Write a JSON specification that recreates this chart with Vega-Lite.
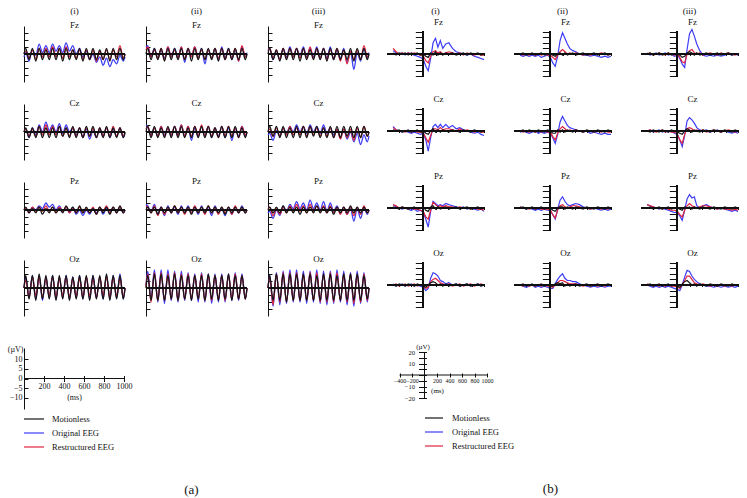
{
"$schema": "https://vega.github.io/schema/vega-lite/v6.json",
"background": "white",
"padding": {"left": 7, "top": 7, "right": 5, "bottom": 2},
"config": {
 "font": "Liberation Serif",
 "view": {"stroke": null},
 "axis": {"domainColor": "#111", "tickColor": "#111", "labelColor": "#111", "titleColor": "#111", "grid": false, "labelFont": "Liberation Serif", "titleFont": "Liberation Serif", "titleFontWeight": "normal"},
 "header": {"labelFont": "Liberation Serif", "labelFontSize": 9, "labelColor": "#111"},
 "text": {"font": "Liberation Serif", "color": "#111"},
 "title": {"font": "Liberation Serif", "fontWeight": "normal", "fontSize": 13, "color": "#111"}
},
"datasets": {
"L": [{"s":"m","lab":"Motionless"},{"s":"o","lab":"Original EEG"},{"s":"r","lab":"Restructured EEG"}],
"A": [
{"c":"i","h":"Fz","t":0,"m":0,"o":-2,"r":0},
{"c":"i","h":"Fz","t":17,"m":4,"o":1,"r":2},
{"c":"i","h":"Fz","t":50,"m":-4,"o":-5,"r":-3},
{"c":"i","h":"Fz","t":83,"m":4,"o":3,"r":3},
{"c":"i","h":"Fz","t":117,"m":-5,"o":-1,"r":-4},
{"c":"i","h":"Fz","t":150,"m":4,"o":7,"r":4},
{"c":"i","h":"Fz","t":183,"m":-4,"o":1,"r":-2},
{"c":"i","h":"Fz","t":217,"m":3,"o":6,"r":4},
{"c":"i","h":"Fz","t":250,"m":-4,"o":1,"r":-2},
{"c":"i","h":"Fz","t":283,"m":4,"o":7,"r":5},
{"c":"i","h":"Fz","t":317,"m":-4,"o":2,"r":-2},
{"c":"i","h":"Fz","t":350,"m":4,"o":6,"r":4},
{"c":"i","h":"Fz","t":383,"m":-5,"o":1,"r":-3},
{"c":"i","h":"Fz","t":417,"m":4,"o":8,"r":5},
{"c":"i","h":"Fz","t":450,"m":-4,"o":2,"r":-2},
{"c":"i","h":"Fz","t":483,"m":3,"o":6,"r":3},
{"c":"i","h":"Fz","t":517,"m":-4,"o":0,"r":-3},
{"c":"i","h":"Fz","t":550,"m":4,"o":4,"r":3},
{"c":"i","h":"Fz","t":583,"m":-5,"o":-2,"r":-4},
{"c":"i","h":"Fz","t":617,"m":4,"o":2,"r":3},
{"c":"i","h":"Fz","t":650,"m":-4,"o":-4,"r":-4},
{"c":"i","h":"Fz","t":683,"m":4,"o":0,"r":3},
{"c":"i","h":"Fz","t":717,"m":-4,"o":-6,"r":-5},
{"c":"i","h":"Fz","t":750,"m":3,"o":-2,"r":2},
{"c":"i","h":"Fz","t":783,"m":-4,"o":-8,"r":-4},
{"c":"i","h":"Fz","t":817,"m":4,"o":-3,"r":3},
{"c":"i","h":"Fz","t":850,"m":-5,"o":-9,"r":-4},
{"c":"i","h":"Fz","t":883,"m":4,"o":-4,"r":3},
{"c":"i","h":"Fz","t":917,"m":-4,"o":-7,"r":-2},
{"c":"i","h":"Fz","t":950,"m":4,"o":-1,"r":6},
{"c":"i","h":"Fz","t":983,"m":-4,"o":-5,"r":-3},
{"c":"i","h":"Fz","t":1000,"m":0,"o":-2,"r":0},
{"c":"ii","h":"Fz","t":0,"m":0,"o":5,"r":3},
{"c":"ii","h":"Fz","t":17,"m":4,"o":6,"r":5},
{"c":"ii","h":"Fz","t":50,"m":-4,"o":-2,"r":-2},
{"c":"ii","h":"Fz","t":83,"m":4,"o":4,"r":3},
{"c":"ii","h":"Fz","t":117,"m":-4,"o":-3,"r":-3},
{"c":"ii","h":"Fz","t":150,"m":4,"o":3,"r":4},
{"c":"ii","h":"Fz","t":183,"m":-5,"o":-3,"r":-4},
{"c":"ii","h":"Fz","t":217,"m":4,"o":5,"r":5},
{"c":"ii","h":"Fz","t":250,"m":-4,"o":-2,"r":-2},
{"c":"ii","h":"Fz","t":283,"m":4,"o":4,"r":3},
{"c":"ii","h":"Fz","t":317,"m":-4,"o":-3,"r":-3},
{"c":"ii","h":"Fz","t":350,"m":4,"o":5,"r":5},
{"c":"ii","h":"Fz","t":383,"m":-4,"o":-6,"r":-4},
{"c":"ii","h":"Fz","t":417,"m":4,"o":4,"r":4},
{"c":"ii","h":"Fz","t":450,"m":-5,"o":-2,"r":-2},
{"c":"ii","h":"Fz","t":483,"m":4,"o":5,"r":5},
{"c":"ii","h":"Fz","t":517,"m":-4,"o":-3,"r":-3},
{"c":"ii","h":"Fz","t":550,"m":4,"o":4,"r":3},
{"c":"ii","h":"Fz","t":583,"m":-4,"o":-7,"r":-4},
{"c":"ii","h":"Fz","t":617,"m":4,"o":3,"r":3},
{"c":"ii","h":"Fz","t":650,"m":-4,"o":-3,"r":-3},
{"c":"ii","h":"Fz","t":683,"m":4,"o":4,"r":4},
{"c":"ii","h":"Fz","t":717,"m":-5,"o":-4,"r":-3},
{"c":"ii","h":"Fz","t":750,"m":4,"o":5,"r":4},
{"c":"ii","h":"Fz","t":783,"m":-4,"o":-3,"r":-4},
{"c":"ii","h":"Fz","t":817,"m":4,"o":4,"r":3},
{"c":"ii","h":"Fz","t":850,"m":-4,"o":-4,"r":-3},
{"c":"ii","h":"Fz","t":883,"m":4,"o":3,"r":4},
{"c":"ii","h":"Fz","t":917,"m":-4,"o":-5,"r":-5},
{"c":"ii","h":"Fz","t":950,"m":4,"o":5,"r":6},
{"c":"ii","h":"Fz","t":983,"m":-4,"o":-2,"r":-2},
{"c":"ii","h":"Fz","t":1000,"m":0,"o":1,"r":0},
{"c":"iii","h":"Fz","t":0,"m":0,"o":3,"r":2},
{"c":"iii","h":"Fz","t":17,"m":4,"o":4,"r":4},
{"c":"iii","h":"Fz","t":50,"m":-4,"o":-4,"r":-3},
{"c":"iii","h":"Fz","t":83,"m":3,"o":2,"r":3},
{"c":"iii","h":"Fz","t":117,"m":-5,"o":-4,"r":-4},
{"c":"iii","h":"Fz","t":150,"m":4,"o":4,"r":4},
{"c":"iii","h":"Fz","t":183,"m":-4,"o":-2,"r":-3},
{"c":"iii","h":"Fz","t":217,"m":4,"o":5,"r":4},
{"c":"iii","h":"Fz","t":250,"m":-4,"o":-2,"r":-2},
{"c":"iii","h":"Fz","t":283,"m":4,"o":4,"r":4},
{"c":"iii","h":"Fz","t":317,"m":-5,"o":-1,"r":-3},
{"c":"iii","h":"Fz","t":350,"m":4,"o":5,"r":4},
{"c":"iii","h":"Fz","t":383,"m":-4,"o":-2,"r":-3},
{"c":"iii","h":"Fz","t":417,"m":3,"o":4,"r":5},
{"c":"iii","h":"Fz","t":450,"m":-4,"o":-2,"r":-3},
{"c":"iii","h":"Fz","t":483,"m":4,"o":5,"r":4},
{"c":"iii","h":"Fz","t":517,"m":-4,"o":-3,"r":-3},
{"c":"iii","h":"Fz","t":550,"m":4,"o":4,"r":4},
{"c":"iii","h":"Fz","t":583,"m":-5,"o":-3,"r":-4},
{"c":"iii","h":"Fz","t":617,"m":4,"o":5,"r":3},
{"c":"iii","h":"Fz","t":650,"m":-4,"o":-4,"r":-3},
{"c":"iii","h":"Fz","t":683,"m":4,"o":3,"r":4},
{"c":"iii","h":"Fz","t":717,"m":-4,"o":-3,"r":-5},
{"c":"iii","h":"Fz","t":750,"m":3,"o":4,"r":3},
{"c":"iii","h":"Fz","t":783,"m":-4,"o":-6,"r":-7},
{"c":"iii","h":"Fz","t":817,"m":4,"o":2,"r":2},
{"c":"iii","h":"Fz","t":850,"m":-5,"o":-11,"r":-4},
{"c":"iii","h":"Fz","t":883,"m":4,"o":1,"r":3},
{"c":"iii","h":"Fz","t":917,"m":-4,"o":-5,"r":-4},
{"c":"iii","h":"Fz","t":950,"m":4,"o":4,"r":6},
{"c":"iii","h":"Fz","t":983,"m":-4,"o":-3,"r":-2},
{"c":"iii","h":"Fz","t":1000,"m":0,"o":1,"r":0},
{"c":"i","h":"Cz","t":0,"m":0,"o":0,"r":0},
{"c":"i","h":"Cz","t":17,"m":3,"o":2,"r":2},
{"c":"i","h":"Cz","t":50,"m":-4,"o":-4,"r":-3},
{"c":"i","h":"Cz","t":83,"m":3,"o":3,"r":2},
{"c":"i","h":"Cz","t":117,"m":-4,"o":-2,"r":-3},
{"c":"i","h":"Cz","t":150,"m":4,"o":5,"r":4},
{"c":"i","h":"Cz","t":183,"m":-4,"o":0,"r":-2},
{"c":"i","h":"Cz","t":217,"m":3,"o":7,"r":5},
{"c":"i","h":"Cz","t":250,"m":-4,"o":1,"r":-2},
{"c":"i","h":"Cz","t":283,"m":3,"o":5,"r":4},
{"c":"i","h":"Cz","t":317,"m":-4,"o":0,"r":-2},
{"c":"i","h":"Cz","t":350,"m":4,"o":6,"r":4},
{"c":"i","h":"Cz","t":383,"m":-3,"o":-1,"r":-3},
{"c":"i","h":"Cz","t":417,"m":3,"o":5,"r":3},
{"c":"i","h":"Cz","t":450,"m":-4,"o":0,"r":-3},
{"c":"i","h":"Cz","t":483,"m":4,"o":3,"r":3},
{"c":"i","h":"Cz","t":517,"m":-4,"o":-2,"r":-3},
{"c":"i","h":"Cz","t":550,"m":3,"o":3,"r":3},
{"c":"i","h":"Cz","t":583,"m":-4,"o":-4,"r":-4},
{"c":"i","h":"Cz","t":617,"m":4,"o":2,"r":3},
{"c":"i","h":"Cz","t":650,"m":-3,"o":-5,"r":-3},
{"c":"i","h":"Cz","t":683,"m":4,"o":1,"r":3},
{"c":"i","h":"Cz","t":717,"m":-4,"o":-4,"r":-4},
{"c":"i","h":"Cz","t":750,"m":3,"o":2,"r":3},
{"c":"i","h":"Cz","t":783,"m":-4,"o":-3,"r":-3},
{"c":"i","h":"Cz","t":817,"m":4,"o":3,"r":3},
{"c":"i","h":"Cz","t":850,"m":-4,"o":-4,"r":-3},
{"c":"i","h":"Cz","t":883,"m":3,"o":2,"r":4},
{"c":"i","h":"Cz","t":917,"m":-4,"o":-3,"r":-3},
{"c":"i","h":"Cz","t":950,"m":3,"o":3,"r":3},
{"c":"i","h":"Cz","t":983,"m":-4,"o":-4,"r":-3},
{"c":"i","h":"Cz","t":1000,"m":0,"o":-1,"r":0},
{"c":"ii","h":"Cz","t":0,"m":0,"o":5,"r":2},
{"c":"ii","h":"Cz","t":17,"m":4,"o":4,"r":4},
{"c":"ii","h":"Cz","t":50,"m":-4,"o":-2,"r":-3},
{"c":"ii","h":"Cz","t":83,"m":4,"o":3,"r":3},
{"c":"ii","h":"Cz","t":117,"m":-4,"o":-3,"r":-3},
{"c":"ii","h":"Cz","t":150,"m":3,"o":4,"r":4},
{"c":"ii","h":"Cz","t":183,"m":-4,"o":-2,"r":-3},
{"c":"ii","h":"Cz","t":217,"m":4,"o":3,"r":3},
{"c":"ii","h":"Cz","t":250,"m":-4,"o":-3,"r":-2},
{"c":"ii","h":"Cz","t":283,"m":4,"o":4,"r":4},
{"c":"ii","h":"Cz","t":317,"m":-4,"o":-2,"r":-3},
{"c":"ii","h":"Cz","t":350,"m":4,"o":5,"r":5},
{"c":"ii","h":"Cz","t":383,"m":-4,"o":-3,"r":-3},
{"c":"ii","h":"Cz","t":417,"m":3,"o":4,"r":4},
{"c":"ii","h":"Cz","t":450,"m":-4,"o":-6,"r":-3},
{"c":"ii","h":"Cz","t":483,"m":4,"o":3,"r":4},
{"c":"ii","h":"Cz","t":517,"m":-4,"o":-3,"r":-3},
{"c":"ii","h":"Cz","t":550,"m":4,"o":4,"r":5},
{"c":"ii","h":"Cz","t":583,"m":-4,"o":-3,"r":-3},
{"c":"ii","h":"Cz","t":617,"m":4,"o":4,"r":4},
{"c":"ii","h":"Cz","t":650,"m":-4,"o":-4,"r":-3},
{"c":"ii","h":"Cz","t":683,"m":3,"o":3,"r":3},
{"c":"ii","h":"Cz","t":717,"m":-4,"o":-3,"r":-4},
{"c":"ii","h":"Cz","t":750,"m":4,"o":4,"r":4},
{"c":"ii","h":"Cz","t":783,"m":-4,"o":-4,"r":-3},
{"c":"ii","h":"Cz","t":817,"m":4,"o":3,"r":4},
{"c":"ii","h":"Cz","t":850,"m":-4,"o":-6,"r":-3},
{"c":"ii","h":"Cz","t":883,"m":4,"o":3,"r":3},
{"c":"ii","h":"Cz","t":917,"m":-4,"o":-3,"r":-4},
{"c":"ii","h":"Cz","t":950,"m":3,"o":4,"r":4},
{"c":"ii","h":"Cz","t":983,"m":-4,"o":-3,"r":-2},
{"c":"ii","h":"Cz","t":1000,"m":0,"o":0,"r":0},
{"c":"iii","h":"Cz","t":0,"m":0,"o":-2,"r":0},
{"c":"iii","h":"Cz","t":17,"m":4,"o":-1,"r":2},
{"c":"iii","h":"Cz","t":50,"m":-3,"o":-6,"r":-3},
{"c":"iii","h":"Cz","t":83,"m":4,"o":1,"r":3},
{"c":"iii","h":"Cz","t":117,"m":-4,"o":-3,"r":-3},
{"c":"iii","h":"Cz","t":150,"m":4,"o":3,"r":3},
{"c":"iii","h":"Cz","t":183,"m":-4,"o":-1,"r":-2},
{"c":"iii","h":"Cz","t":217,"m":3,"o":4,"r":4},
{"c":"iii","h":"Cz","t":250,"m":-4,"o":0,"r":-2},
{"c":"iii","h":"Cz","t":283,"m":4,"o":5,"r":3},
{"c":"iii","h":"Cz","t":317,"m":-4,"o":0,"r":-2},
{"c":"iii","h":"Cz","t":350,"m":4,"o":4,"r":4},
{"c":"iii","h":"Cz","t":383,"m":-4,"o":-1,"r":-3},
{"c":"iii","h":"Cz","t":417,"m":4,"o":5,"r":4},
{"c":"iii","h":"Cz","t":450,"m":-3,"o":0,"r":-2},
{"c":"iii","h":"Cz","t":483,"m":4,"o":4,"r":3},
{"c":"iii","h":"Cz","t":517,"m":-4,"o":-1,"r":-3},
{"c":"iii","h":"Cz","t":550,"m":3,"o":5,"r":3},
{"c":"iii","h":"Cz","t":583,"m":-4,"o":-1,"r":-3},
{"c":"iii","h":"Cz","t":617,"m":4,"o":3,"r":3},
{"c":"iii","h":"Cz","t":650,"m":-4,"o":-2,"r":-4},
{"c":"iii","h":"Cz","t":683,"m":4,"o":2,"r":2},
{"c":"iii","h":"Cz","t":717,"m":-4,"o":-4,"r":-5},
{"c":"iii","h":"Cz","t":750,"m":4,"o":2,"r":2},
{"c":"iii","h":"Cz","t":783,"m":-3,"o":-5,"r":-4},
{"c":"iii","h":"Cz","t":817,"m":4,"o":0,"r":2},
{"c":"iii","h":"Cz","t":850,"m":-4,"o":-7,"r":-6},
{"c":"iii","h":"Cz","t":883,"m":4,"o":-1,"r":3},
{"c":"iii","h":"Cz","t":917,"m":-4,"o":-9,"r":-4},
{"c":"iii","h":"Cz","t":950,"m":4,"o":-2,"r":4},
{"c":"iii","h":"Cz","t":983,"m":-3,"o":-7,"r":-3},
{"c":"iii","h":"Cz","t":1000,"m":0,"o":-3,"r":0},
{"c":"i","h":"Pz","t":0,"m":0,"o":0,"r":0},
{"c":"i","h":"Pz","t":17,"m":2,"o":1,"r":1},
{"c":"i","h":"Pz","t":50,"m":-2,"o":-2,"r":-2},
{"c":"i","h":"Pz","t":83,"m":1,"o":2,"r":2},
{"c":"i","h":"Pz","t":117,"m":-2,"o":0,"r":-1},
{"c":"i","h":"Pz","t":150,"m":2,"o":3,"r":2},
{"c":"i","h":"Pz","t":183,"m":-3,"o":1,"r":-1},
{"c":"i","h":"Pz","t":217,"m":1,"o":5,"r":3},
{"c":"i","h":"Pz","t":250,"m":-2,"o":2,"r":-1},
{"c":"i","h":"Pz","t":283,"m":2,"o":4,"r":2},
{"c":"i","h":"Pz","t":317,"m":-2,"o":0,"r":-2},
{"c":"i","h":"Pz","t":350,"m":1,"o":3,"r":2},
{"c":"i","h":"Pz","t":383,"m":-2,"o":-1,"r":-1},
{"c":"i","h":"Pz","t":417,"m":3,"o":2,"r":2},
{"c":"i","h":"Pz","t":450,"m":-1,"o":-2,"r":-2},
{"c":"i","h":"Pz","t":483,"m":2,"o":2,"r":1},
{"c":"i","h":"Pz","t":517,"m":-2,"o":-3,"r":-2},
{"c":"i","h":"Pz","t":550,"m":3,"o":0,"r":2},
{"c":"i","h":"Pz","t":583,"m":-2,"o":-4,"r":-2},
{"c":"i","h":"Pz","t":617,"m":2,"o":0,"r":1},
{"c":"i","h":"Pz","t":650,"m":-2,"o":-3,"r":-2},
{"c":"i","h":"Pz","t":683,"m":1,"o":1,"r":2},
{"c":"i","h":"Pz","t":717,"m":-3,"o":-2,"r":-3},
{"c":"i","h":"Pz","t":750,"m":2,"o":2,"r":2},
{"c":"i","h":"Pz","t":783,"m":-2,"o":-3,"r":-1},
{"c":"i","h":"Pz","t":817,"m":2,"o":1,"r":3},
{"c":"i","h":"Pz","t":850,"m":-3,"o":-2,"r":-2},
{"c":"i","h":"Pz","t":883,"m":2,"o":2,"r":2},
{"c":"i","h":"Pz","t":917,"m":-2,"o":-2,"r":-2},
{"c":"i","h":"Pz","t":950,"m":3,"o":2,"r":2},
{"c":"i","h":"Pz","t":983,"m":-2,"o":-2,"r":-2},
{"c":"i","h":"Pz","t":1000,"m":0,"o":0,"r":0},
{"c":"ii","h":"Pz","t":0,"m":0,"o":4,"r":3},
{"c":"ii","h":"Pz","t":17,"m":2,"o":3,"r":2},
{"c":"ii","h":"Pz","t":50,"m":-2,"o":-1,"r":-2},
{"c":"ii","h":"Pz","t":83,"m":2,"o":4,"r":3},
{"c":"ii","h":"Pz","t":117,"m":-3,"o":-3,"r":-4},
{"c":"ii","h":"Pz","t":150,"m":2,"o":2,"r":2},
{"c":"ii","h":"Pz","t":183,"m":-2,"o":-4,"r":-3},
{"c":"ii","h":"Pz","t":217,"m":2,"o":3,"r":2},
{"c":"ii","h":"Pz","t":250,"m":-2,"o":-2,"r":-2},
{"c":"ii","h":"Pz","t":283,"m":3,"o":2,"r":3},
{"c":"ii","h":"Pz","t":317,"m":-2,"o":-3,"r":-2},
{"c":"ii","h":"Pz","t":350,"m":2,"o":3,"r":2},
{"c":"ii","h":"Pz","t":383,"m":-2,"o":-2,"r":-3},
{"c":"ii","h":"Pz","t":417,"m":2,"o":3,"r":2},
{"c":"ii","h":"Pz","t":450,"m":-3,"o":-2,"r":-2},
{"c":"ii","h":"Pz","t":483,"m":2,"o":2,"r":3},
{"c":"ii","h":"Pz","t":517,"m":-2,"o":-3,"r":-2},
{"c":"ii","h":"Pz","t":550,"m":2,"o":3,"r":2},
{"c":"ii","h":"Pz","t":583,"m":-2,"o":-2,"r":-3},
{"c":"ii","h":"Pz","t":617,"m":3,"o":2,"r":3},
{"c":"ii","h":"Pz","t":650,"m":-2,"o":-4,"r":-2},
{"c":"ii","h":"Pz","t":683,"m":2,"o":3,"r":2},
{"c":"ii","h":"Pz","t":717,"m":-2,"o":-2,"r":-3},
{"c":"ii","h":"Pz","t":750,"m":2,"o":1,"r":2},
{"c":"ii","h":"Pz","t":783,"m":-3,"o":-4,"r":-2},
{"c":"ii","h":"Pz","t":817,"m":2,"o":2,"r":2},
{"c":"ii","h":"Pz","t":850,"m":-2,"o":-3,"r":-3},
{"c":"ii","h":"Pz","t":883,"m":2,"o":2,"r":3},
{"c":"ii","h":"Pz","t":917,"m":-2,"o":-2,"r":-2},
{"c":"ii","h":"Pz","t":950,"m":2,"o":3,"r":2},
{"c":"ii","h":"Pz","t":983,"m":-2,"o":-2,"r":-2},
{"c":"ii","h":"Pz","t":1000,"m":0,"o":0,"r":0},
{"c":"iii","h":"Pz","t":0,"m":0,"o":-2,"r":1},
{"c":"iii","h":"Pz","t":17,"m":2,"o":-1,"r":2},
{"c":"iii","h":"Pz","t":50,"m":-2,"o":-6,"r":-4},
{"c":"iii","h":"Pz","t":83,"m":2,"o":0,"r":1},
{"c":"iii","h":"Pz","t":117,"m":-2,"o":-4,"r":-3},
{"c":"iii","h":"Pz","t":150,"m":3,"o":3,"r":2},
{"c":"iii","h":"Pz","t":183,"m":-2,"o":-1,"r":-2},
{"c":"iii","h":"Pz","t":217,"m":2,"o":4,"r":3},
{"c":"iii","h":"Pz","t":250,"m":-2,"o":1,"r":-1},
{"c":"iii","h":"Pz","t":283,"m":2,"o":6,"r":4},
{"c":"iii","h":"Pz","t":317,"m":-3,"o":1,"r":-1},
{"c":"iii","h":"Pz","t":350,"m":2,"o":5,"r":3},
{"c":"iii","h":"Pz","t":383,"m":-2,"o":0,"r":-2},
{"c":"iii","h":"Pz","t":417,"m":2,"o":7,"r":4},
{"c":"iii","h":"Pz","t":450,"m":-2,"o":1,"r":-1},
{"c":"iii","h":"Pz","t":483,"m":3,"o":5,"r":3},
{"c":"iii","h":"Pz","t":517,"m":-2,"o":0,"r":-1},
{"c":"iii","h":"Pz","t":550,"m":2,"o":6,"r":3},
{"c":"iii","h":"Pz","t":583,"m":-2,"o":-1,"r":-2},
{"c":"iii","h":"Pz","t":617,"m":2,"o":5,"r":3},
{"c":"iii","h":"Pz","t":650,"m":-3,"o":-1,"r":-2},
{"c":"iii","h":"Pz","t":683,"m":2,"o":3,"r":2},
{"c":"iii","h":"Pz","t":717,"m":-2,"o":-2,"r":-3},
{"c":"iii","h":"Pz","t":750,"m":2,"o":2,"r":2},
{"c":"iii","h":"Pz","t":783,"m":-2,"o":-3,"r":-3},
{"c":"iii","h":"Pz","t":817,"m":3,"o":1,"r":2},
{"c":"iii","h":"Pz","t":850,"m":-2,"o":-8,"r":-4},
{"c":"iii","h":"Pz","t":883,"m":2,"o":1,"r":2},
{"c":"iii","h":"Pz","t":917,"m":-2,"o":-6,"r":-3},
{"c":"iii","h":"Pz","t":950,"m":2,"o":2,"r":3},
{"c":"iii","h":"Pz","t":983,"m":-2,"o":-3,"r":-2},
{"c":"iii","h":"Pz","t":1000,"m":0,"o":0,"r":0},
{"c":"i","h":"Oz","t":0,"m":0,"o":0,"r":0},
{"c":"i","h":"Oz","t":17,"m":9,"o":8,"r":6},
{"c":"i","h":"Oz","t":50,"m":-8,"o":-7,"r":-7},
{"c":"i","h":"Oz","t":83,"m":9,"o":9,"r":8},
{"c":"i","h":"Oz","t":117,"m":-9,"o":-8,"r":-6},
{"c":"i","h":"Oz","t":150,"m":10,"o":9,"r":8},
{"c":"i","h":"Oz","t":183,"m":-8,"o":-9,"r":-7},
{"c":"i","h":"Oz","t":217,"m":9,"o":8,"r":7},
{"c":"i","h":"Oz","t":250,"m":-8,"o":-7,"r":-6},
{"c":"i","h":"Oz","t":283,"m":9,"o":9,"r":8},
{"c":"i","h":"Oz","t":317,"m":-9,"o":-8,"r":-7},
{"c":"i","h":"Oz","t":350,"m":9,"o":8,"r":7},
{"c":"i","h":"Oz","t":383,"m":-8,"o":-7,"r":-6},
{"c":"i","h":"Oz","t":417,"m":9,"o":9,"r":8},
{"c":"i","h":"Oz","t":450,"m":-9,"o":-8,"r":-7},
{"c":"i","h":"Oz","t":483,"m":8,"o":8,"r":7},
{"c":"i","h":"Oz","t":517,"m":-8,"o":-7,"r":-6},
{"c":"i","h":"Oz","t":550,"m":9,"o":9,"r":7},
{"c":"i","h":"Oz","t":583,"m":-8,"o":-8,"r":-7},
{"c":"i","h":"Oz","t":617,"m":9,"o":8,"r":8},
{"c":"i","h":"Oz","t":650,"m":-9,"o":-8,"r":-6},
{"c":"i","h":"Oz","t":683,"m":9,"o":9,"r":7},
{"c":"i","h":"Oz","t":717,"m":-8,"o":-7,"r":-7},
{"c":"i","h":"Oz","t":750,"m":9,"o":8,"r":8},
{"c":"i","h":"Oz","t":783,"m":-8,"o":-8,"r":-6},
{"c":"i","h":"Oz","t":817,"m":10,"o":9,"r":8},
{"c":"i","h":"Oz","t":850,"m":-9,"o":-8,"r":-7},
{"c":"i","h":"Oz","t":883,"m":9,"o":9,"r":8},
{"c":"i","h":"Oz","t":917,"m":-8,"o":-7,"r":-6},
{"c":"i","h":"Oz","t":950,"m":9,"o":10,"r":7},
{"c":"i","h":"Oz","t":983,"m":-8,"o":-8,"r":-7},
{"c":"i","h":"Oz","t":1000,"m":0,"o":0,"r":0},
{"c":"ii","h":"Oz","t":0,"m":0,"o":2,"r":1},
{"c":"ii","h":"Oz","t":17,"m":9,"o":12,"r":10},
{"c":"ii","h":"Oz","t":50,"m":-9,"o":-8,"r":-10},
{"c":"ii","h":"Oz","t":83,"m":10,"o":13,"r":11},
{"c":"ii","h":"Oz","t":117,"m":-9,"o":-10,"r":-9},
{"c":"ii","h":"Oz","t":150,"m":10,"o":13,"r":11},
{"c":"ii","h":"Oz","t":183,"m":-9,"o":-11,"r":-9},
{"c":"ii","h":"Oz","t":217,"m":9,"o":13,"r":10},
{"c":"ii","h":"Oz","t":250,"m":-8,"o":-9,"r":-8},
{"c":"ii","h":"Oz","t":283,"m":10,"o":12,"r":11},
{"c":"ii","h":"Oz","t":317,"m":-9,"o":-10,"r":-9},
{"c":"ii","h":"Oz","t":350,"m":9,"o":12,"r":10},
{"c":"ii","h":"Oz","t":383,"m":-8,"o":-9,"r":-8},
{"c":"ii","h":"Oz","t":417,"m":9,"o":11,"r":10},
{"c":"ii","h":"Oz","t":450,"m":-9,"o":-9,"r":-8},
{"c":"ii","h":"Oz","t":483,"m":9,"o":10,"r":9},
{"c":"ii","h":"Oz","t":517,"m":-8,"o":-10,"r":-8},
{"c":"ii","h":"Oz","t":550,"m":9,"o":11,"r":10},
{"c":"ii","h":"Oz","t":583,"m":-9,"o":-10,"r":-9},
{"c":"ii","h":"Oz","t":617,"m":10,"o":10,"r":9},
{"c":"ii","h":"Oz","t":650,"m":-8,"o":-11,"r":-9},
{"c":"ii","h":"Oz","t":683,"m":9,"o":10,"r":9},
{"c":"ii","h":"Oz","t":717,"m":-9,"o":-10,"r":-8},
{"c":"ii","h":"Oz","t":750,"m":9,"o":10,"r":9},
{"c":"ii","h":"Oz","t":783,"m":-8,"o":-10,"r":-9},
{"c":"ii","h":"Oz","t":817,"m":10,"o":10,"r":9},
{"c":"ii","h":"Oz","t":850,"m":-9,"o":-9,"r":-8},
{"c":"ii","h":"Oz","t":883,"m":9,"o":11,"r":10},
{"c":"ii","h":"Oz","t":917,"m":-8,"o":-9,"r":-8},
{"c":"ii","h":"Oz","t":950,"m":9,"o":10,"r":9},
{"c":"ii","h":"Oz","t":983,"m":-8,"o":-8,"r":-8},
{"c":"ii","h":"Oz","t":1000,"m":0,"o":0,"r":0},
{"c":"iii","h":"Oz","t":0,"m":0,"o":0,"r":0},
{"c":"iii","h":"Oz","t":17,"m":9,"o":9,"r":8},
{"c":"iii","h":"Oz","t":50,"m":-9,"o":-13,"r":-12},
{"c":"iii","h":"Oz","t":83,"m":10,"o":11,"r":10},
{"c":"iii","h":"Oz","t":117,"m":-9,"o":-12,"r":-10},
{"c":"iii","h":"Oz","t":150,"m":10,"o":12,"r":11},
{"c":"iii","h":"Oz","t":183,"m":-10,"o":-11,"r":-10},
{"c":"iii","h":"Oz","t":217,"m":10,"o":13,"r":11},
{"c":"iii","h":"Oz","t":250,"m":-9,"o":-10,"r":-9},
{"c":"iii","h":"Oz","t":283,"m":10,"o":13,"r":11},
{"c":"iii","h":"Oz","t":317,"m":-9,"o":-10,"r":-9},
{"c":"iii","h":"Oz","t":350,"m":10,"o":12,"r":10},
{"c":"iii","h":"Oz","t":383,"m":-9,"o":-11,"r":-9},
{"c":"iii","h":"Oz","t":417,"m":10,"o":12,"r":11},
{"c":"iii","h":"Oz","t":450,"m":-9,"o":-10,"r":-9},
{"c":"iii","h":"Oz","t":483,"m":9,"o":13,"r":11},
{"c":"iii","h":"Oz","t":517,"m":-9,"o":-11,"r":-10},
{"c":"iii","h":"Oz","t":550,"m":10,"o":12,"r":10},
{"c":"iii","h":"Oz","t":583,"m":-9,"o":-12,"r":-10},
{"c":"iii","h":"Oz","t":617,"m":10,"o":12,"r":11},
{"c":"iii","h":"Oz","t":650,"m":-9,"o":-11,"r":-10},
{"c":"iii","h":"Oz","t":683,"m":9,"o":13,"r":11},
{"c":"iii","h":"Oz","t":717,"m":-9,"o":-10,"r":-9},
{"c":"iii","h":"Oz","t":750,"m":10,"o":12,"r":10},
{"c":"iii","h":"Oz","t":783,"m":-9,"o":-12,"r":-10},
{"c":"iii","h":"Oz","t":817,"m":10,"o":11,"r":10},
{"c":"iii","h":"Oz","t":850,"m":-9,"o":-13,"r":-11},
{"c":"iii","h":"Oz","t":883,"m":10,"o":12,"r":10},
{"c":"iii","h":"Oz","t":917,"m":-9,"o":-11,"r":-10},
{"c":"iii","h":"Oz","t":950,"m":9,"o":11,"r":10},
{"c":"iii","h":"Oz","t":983,"m":-8,"o":-10,"r":-9},
{"c":"iii","h":"Oz","t":1000,"m":0,"o":0,"r":0}
],
"B": [
{"c":"i","h":"Fz","t":-500,"m":1,"o":3,"r":5},
{"c":"i","h":"Fz","t":-450,"m":-1,"o":1,"r":2},
{"c":"i","h":"Fz","t":-400,"m":1,"o":0,"r":0},
{"c":"i","h":"Fz","t":-350,"m":0,"o":1,"r":1},
{"c":"i","h":"Fz","t":-300,"m":1,"o":-1,"r":0},
{"c":"i","h":"Fz","t":-250,"m":-1,"o":1,"r":1},
{"c":"i","h":"Fz","t":-200,"m":1,"o":0,"r":0},
{"c":"i","h":"Fz","t":-150,"m":0,"o":-1,"r":1},
{"c":"i","h":"Fz","t":-100,"m":1,"o":-2,"r":0},
{"c":"i","h":"Fz","t":-50,"m":-1,"o":-3,"r":-1},
{"c":"i","h":"Fz","t":0,"m":0,"o":-5,"r":-2},
{"c":"i","h":"Fz","t":40,"m":-2,"o":-11,"r":-6},
{"c":"i","h":"Fz","t":80,"m":-3,"o":-15,"r":-8},
{"c":"i","h":"Fz","t":120,"m":1,"o":-4,"r":-2},
{"c":"i","h":"Fz","t":160,"m":-1,"o":10,"r":2},
{"c":"i","h":"Fz","t":200,"m":2,"o":14,"r":3},
{"c":"i","h":"Fz","t":240,"m":-1,"o":6,"r":1},
{"c":"i","h":"Fz","t":280,"m":1,"o":12,"r":2},
{"c":"i","h":"Fz","t":320,"m":-1,"o":5,"r":0},
{"c":"i","h":"Fz","t":370,"m":1,"o":9,"r":1},
{"c":"i","h":"Fz","t":420,"m":0,"o":10,"r":2},
{"c":"i","h":"Fz","t":480,"m":1,"o":5,"r":1},
{"c":"i","h":"Fz","t":540,"m":-1,"o":2,"r":0},
{"c":"i","h":"Fz","t":600,"m":0,"o":1,"r":1},
{"c":"i","h":"Fz","t":660,"m":1,"o":0,"r":-1},
{"c":"i","h":"Fz","t":720,"m":-1,"o":-1,"r":1},
{"c":"i","h":"Fz","t":780,"m":1,"o":0,"r":0},
{"c":"i","h":"Fz","t":840,"m":0,"o":-2,"r":-1},
{"c":"i","h":"Fz","t":900,"m":1,"o":-3,"r":0},
{"c":"i","h":"Fz","t":950,"m":-1,"o":-4,"r":-1},
{"c":"i","h":"Fz","t":1000,"m":0,"o":-5,"r":-1},
{"c":"ii","h":"Fz","t":-500,"m":0,"o":-1,"r":0},
{"c":"ii","h":"Fz","t":-450,"m":1,"o":-2,"r":-1},
{"c":"ii","h":"Fz","t":-400,"m":-1,"o":-1,"r":0},
{"c":"ii","h":"Fz","t":-350,"m":0,"o":-2,"r":-1},
{"c":"ii","h":"Fz","t":-300,"m":1,"o":-1,"r":0},
{"c":"ii","h":"Fz","t":-250,"m":-1,"o":-2,"r":-1},
{"c":"ii","h":"Fz","t":-200,"m":0,"o":-1,"r":0},
{"c":"ii","h":"Fz","t":-150,"m":1,"o":-3,"r":-1},
{"c":"ii","h":"Fz","t":-100,"m":-1,"o":-2,"r":0},
{"c":"ii","h":"Fz","t":-50,"m":0,"o":-1,"r":-1},
{"c":"ii","h":"Fz","t":0,"m":1,"o":-3,"r":-1},
{"c":"ii","h":"Fz","t":40,"m":-1,"o":-8,"r":-3},
{"c":"ii","h":"Fz","t":80,"m":-2,"o":-11,"r":-5},
{"c":"ii","h":"Fz","t":120,"m":0,"o":-2,"r":-1},
{"c":"ii","h":"Fz","t":160,"m":1,"o":12,"r":2},
{"c":"ii","h":"Fz","t":200,"m":-1,"o":19,"r":4},
{"c":"ii","h":"Fz","t":240,"m":1,"o":14,"r":2},
{"c":"ii","h":"Fz","t":280,"m":-1,"o":9,"r":0},
{"c":"ii","h":"Fz","t":320,"m":0,"o":5,"r":1},
{"c":"ii","h":"Fz","t":370,"m":1,"o":3,"r":0},
{"c":"ii","h":"Fz","t":420,"m":-1,"o":2,"r":1},
{"c":"ii","h":"Fz","t":480,"m":0,"o":0,"r":0},
{"c":"ii","h":"Fz","t":540,"m":1,"o":-1,"r":-1},
{"c":"ii","h":"Fz","t":600,"m":-1,"o":-1,"r":0},
{"c":"ii","h":"Fz","t":660,"m":0,"o":-2,"r":-1},
{"c":"ii","h":"Fz","t":720,"m":1,"o":-1,"r":0},
{"c":"ii","h":"Fz","t":780,"m":-1,"o":-2,"r":0},
{"c":"ii","h":"Fz","t":840,"m":0,"o":-3,"r":1},
{"c":"ii","h":"Fz","t":900,"m":1,"o":-2,"r":0},
{"c":"ii","h":"Fz","t":950,"m":-1,"o":-3,"r":-1},
{"c":"ii","h":"Fz","t":1000,"m":0,"o":-2,"r":0},
{"c":"iii","h":"Fz","t":-500,"m":0,"o":1,"r":0},
{"c":"iii","h":"Fz","t":-450,"m":1,"o":-1,"r":1},
{"c":"iii","h":"Fz","t":-400,"m":-1,"o":0,"r":-1},
{"c":"iii","h":"Fz","t":-350,"m":0,"o":1,"r":0},
{"c":"iii","h":"Fz","t":-300,"m":1,"o":-1,"r":1},
{"c":"iii","h":"Fz","t":-250,"m":-1,"o":0,"r":0},
{"c":"iii","h":"Fz","t":-200,"m":0,"o":1,"r":-1},
{"c":"iii","h":"Fz","t":-150,"m":1,"o":-1,"r":1},
{"c":"iii","h":"Fz","t":-100,"m":-1,"o":0,"r":0},
{"c":"iii","h":"Fz","t":-50,"m":0,"o":-2,"r":-1},
{"c":"iii","h":"Fz","t":0,"m":0,"o":-1,"r":0},
{"c":"iii","h":"Fz","t":40,"m":-1,"o":-4,"r":-3},
{"c":"iii","h":"Fz","t":80,"m":-3,"o":-9,"r":-7},
{"c":"iii","h":"Fz","t":120,"m":-2,"o":-12,"r":-8},
{"c":"iii","h":"Fz","t":160,"m":1,"o":4,"r":0},
{"c":"iii","h":"Fz","t":200,"m":2,"o":18,"r":3},
{"c":"iii","h":"Fz","t":240,"m":1,"o":22,"r":4},
{"c":"iii","h":"Fz","t":280,"m":-1,"o":16,"r":1},
{"c":"iii","h":"Fz","t":320,"m":1,"o":9,"r":0},
{"c":"iii","h":"Fz","t":370,"m":-1,"o":3,"r":1},
{"c":"iii","h":"Fz","t":420,"m":0,"o":-1,"r":-1},
{"c":"iii","h":"Fz","t":480,"m":1,"o":-2,"r":0},
{"c":"iii","h":"Fz","t":540,"m":-1,"o":-1,"r":1},
{"c":"iii","h":"Fz","t":600,"m":0,"o":-2,"r":0},
{"c":"iii","h":"Fz","t":660,"m":1,"o":-1,"r":-1},
{"c":"iii","h":"Fz","t":720,"m":-1,"o":-2,"r":1},
{"c":"iii","h":"Fz","t":780,"m":0,"o":-1,"r":0},
{"c":"iii","h":"Fz","t":840,"m":1,"o":0,"r":1},
{"c":"iii","h":"Fz","t":900,"m":-1,"o":-1,"r":0},
{"c":"iii","h":"Fz","t":950,"m":0,"o":0,"r":-1},
{"c":"iii","h":"Fz","t":1000,"m":0,"o":-1,"r":0},
{"c":"i","h":"Cz","t":-500,"m":1,"o":4,"r":3},
{"c":"i","h":"Cz","t":-450,"m":0,"o":1,"r":1},
{"c":"i","h":"Cz","t":-400,"m":1,"o":0,"r":0},
{"c":"i","h":"Cz","t":-350,"m":-1,"o":-1,"r":0},
{"c":"i","h":"Cz","t":-300,"m":0,"o":0,"r":-1},
{"c":"i","h":"Cz","t":-250,"m":1,"o":-1,"r":0},
{"c":"i","h":"Cz","t":-200,"m":-1,"o":-2,"r":-1},
{"c":"i","h":"Cz","t":-150,"m":0,"o":-1,"r":0},
{"c":"i","h":"Cz","t":-100,"m":1,"o":-2,"r":-1},
{"c":"i","h":"Cz","t":-50,"m":-1,"o":-3,"r":-1},
{"c":"i","h":"Cz","t":0,"m":0,"o":-2,"r":-2},
{"c":"i","h":"Cz","t":40,"m":-2,"o":-8,"r":-6},
{"c":"i","h":"Cz","t":80,"m":-3,"o":-18,"r":-10},
{"c":"i","h":"Cz","t":120,"m":0,"o":-6,"r":-4},
{"c":"i","h":"Cz","t":160,"m":2,"o":4,"r":2},
{"c":"i","h":"Cz","t":200,"m":-1,"o":6,"r":2},
{"c":"i","h":"Cz","t":240,"m":1,"o":3,"r":1},
{"c":"i","h":"Cz","t":280,"m":-1,"o":6,"r":3},
{"c":"i","h":"Cz","t":320,"m":1,"o":3,"r":1},
{"c":"i","h":"Cz","t":370,"m":0,"o":6,"r":2},
{"c":"i","h":"Cz","t":420,"m":-1,"o":3,"r":2},
{"c":"i","h":"Cz","t":480,"m":1,"o":5,"r":1},
{"c":"i","h":"Cz","t":540,"m":0,"o":2,"r":0},
{"c":"i","h":"Cz","t":600,"m":-1,"o":3,"r":2},
{"c":"i","h":"Cz","t":660,"m":1,"o":1,"r":0},
{"c":"i","h":"Cz","t":720,"m":0,"o":0,"r":1},
{"c":"i","h":"Cz","t":780,"m":-1,"o":-1,"r":0},
{"c":"i","h":"Cz","t":840,"m":1,"o":-2,"r":-1},
{"c":"i","h":"Cz","t":900,"m":0,"o":-1,"r":0},
{"c":"i","h":"Cz","t":950,"m":-1,"o":-3,"r":-1},
{"c":"i","h":"Cz","t":1000,"m":0,"o":-4,"r":-1},
{"c":"ii","h":"Cz","t":-500,"m":0,"o":-1,"r":0},
{"c":"ii","h":"Cz","t":-450,"m":1,"o":0,"r":-1},
{"c":"ii","h":"Cz","t":-400,"m":-1,"o":-1,"r":0},
{"c":"ii","h":"Cz","t":-350,"m":1,"o":-2,"r":-1},
{"c":"ii","h":"Cz","t":-300,"m":0,"o":-1,"r":0},
{"c":"ii","h":"Cz","t":-250,"m":-1,"o":0,"r":-1},
{"c":"ii","h":"Cz","t":-200,"m":1,"o":-2,"r":0},
{"c":"ii","h":"Cz","t":-150,"m":0,"o":-1,"r":-1},
{"c":"ii","h":"Cz","t":-100,"m":-1,"o":-2,"r":0},
{"c":"ii","h":"Cz","t":-50,"m":1,"o":-1,"r":-1},
{"c":"ii","h":"Cz","t":0,"m":0,"o":-2,"r":-1},
{"c":"ii","h":"Cz","t":40,"m":-2,"o":-6,"r":-5},
{"c":"ii","h":"Cz","t":80,"m":-2,"o":-11,"r":-8},
{"c":"ii","h":"Cz","t":120,"m":1,"o":-3,"r":-2},
{"c":"ii","h":"Cz","t":160,"m":-1,"o":8,"r":2},
{"c":"ii","h":"Cz","t":200,"m":1,"o":13,"r":4},
{"c":"ii","h":"Cz","t":240,"m":-1,"o":9,"r":2},
{"c":"ii","h":"Cz","t":280,"m":1,"o":5,"r":0},
{"c":"ii","h":"Cz","t":320,"m":0,"o":3,"r":1},
{"c":"ii","h":"Cz","t":370,"m":-1,"o":2,"r":0},
{"c":"ii","h":"Cz","t":420,"m":1,"o":1,"r":1},
{"c":"ii","h":"Cz","t":480,"m":0,"o":0,"r":0},
{"c":"ii","h":"Cz","t":540,"m":-1,"o":-1,"r":-1},
{"c":"ii","h":"Cz","t":600,"m":1,"o":0,"r":0},
{"c":"ii","h":"Cz","t":660,"m":0,"o":-2,"r":0},
{"c":"ii","h":"Cz","t":720,"m":-1,"o":-1,"r":-1},
{"c":"ii","h":"Cz","t":780,"m":1,"o":-2,"r":0},
{"c":"ii","h":"Cz","t":840,"m":0,"o":-3,"r":-1},
{"c":"ii","h":"Cz","t":900,"m":-1,"o":-2,"r":0},
{"c":"ii","h":"Cz","t":950,"m":1,"o":-3,"r":-1},
{"c":"ii","h":"Cz","t":1000,"m":0,"o":-3,"r":-1},
{"c":"iii","h":"Cz","t":-500,"m":0,"o":0,"r":0},
{"c":"iii","h":"Cz","t":-450,"m":-1,"o":1,"r":1},
{"c":"iii","h":"Cz","t":-400,"m":1,"o":-1,"r":0},
{"c":"iii","h":"Cz","t":-350,"m":0,"o":0,"r":-1},
{"c":"iii","h":"Cz","t":-300,"m":-1,"o":1,"r":0},
{"c":"iii","h":"Cz","t":-250,"m":1,"o":-1,"r":1},
{"c":"iii","h":"Cz","t":-200,"m":0,"o":0,"r":-1},
{"c":"iii","h":"Cz","t":-150,"m":-1,"o":-1,"r":0},
{"c":"iii","h":"Cz","t":-100,"m":1,"o":0,"r":-1},
{"c":"iii","h":"Cz","t":-50,"m":0,"o":-2,"r":-1},
{"c":"iii","h":"Cz","t":0,"m":-1,"o":-3,"r":-3},
{"c":"iii","h":"Cz","t":40,"m":-2,"o":-8,"r":-8},
{"c":"iii","h":"Cz","t":80,"m":-3,"o":-14,"r":-11},
{"c":"iii","h":"Cz","t":120,"m":0,"o":-4,"r":-3},
{"c":"iii","h":"Cz","t":160,"m":2,"o":9,"r":2},
{"c":"iii","h":"Cz","t":200,"m":1,"o":12,"r":3},
{"c":"iii","h":"Cz","t":240,"m":-1,"o":10,"r":2},
{"c":"iii","h":"Cz","t":280,"m":1,"o":7,"r":0},
{"c":"iii","h":"Cz","t":320,"m":0,"o":3,"r":1},
{"c":"iii","h":"Cz","t":370,"m":-1,"o":1,"r":0},
{"c":"iii","h":"Cz","t":420,"m":1,"o":0,"r":1},
{"c":"iii","h":"Cz","t":480,"m":0,"o":1,"r":-1},
{"c":"iii","h":"Cz","t":540,"m":-1,"o":-1,"r":0},
{"c":"iii","h":"Cz","t":600,"m":1,"o":0,"r":1},
{"c":"iii","h":"Cz","t":660,"m":0,"o":1,"r":0},
{"c":"iii","h":"Cz","t":720,"m":-1,"o":-1,"r":-1},
{"c":"iii","h":"Cz","t":780,"m":1,"o":0,"r":0},
{"c":"iii","h":"Cz","t":840,"m":0,"o":-1,"r":1},
{"c":"iii","h":"Cz","t":900,"m":-1,"o":-2,"r":0},
{"c":"iii","h":"Cz","t":950,"m":1,"o":-1,"r":-1},
{"c":"iii","h":"Cz","t":1000,"m":0,"o":-2,"r":0},
{"c":"i","h":"Pz","t":-500,"m":1,"o":3,"r":3},
{"c":"i","h":"Pz","t":-450,"m":0,"o":1,"r":2},
{"c":"i","h":"Pz","t":-400,"m":-1,"o":0,"r":0},
{"c":"i","h":"Pz","t":-350,"m":1,"o":-1,"r":1},
{"c":"i","h":"Pz","t":-300,"m":0,"o":0,"r":0},
{"c":"i","h":"Pz","t":-250,"m":-1,"o":-1,"r":-1},
{"c":"i","h":"Pz","t":-200,"m":0,"o":-2,"r":0},
{"c":"i","h":"Pz","t":-150,"m":1,"o":-1,"r":-1},
{"c":"i","h":"Pz","t":-100,"m":-1,"o":-3,"r":-1},
{"c":"i","h":"Pz","t":-50,"m":0,"o":-2,"r":-2},
{"c":"i","h":"Pz","t":0,"m":1,"o":-4,"r":-3},
{"c":"i","h":"Pz","t":40,"m":-2,"o":-10,"r":-8},
{"c":"i","h":"Pz","t":80,"m":-3,"o":-17,"r":-10},
{"c":"i","h":"Pz","t":120,"m":1,"o":-3,"r":-2},
{"c":"i","h":"Pz","t":160,"m":2,"o":6,"r":5},
{"c":"i","h":"Pz","t":200,"m":-1,"o":4,"r":3},
{"c":"i","h":"Pz","t":240,"m":1,"o":2,"r":1},
{"c":"i","h":"Pz","t":280,"m":-1,"o":3,"r":2},
{"c":"i","h":"Pz","t":320,"m":0,"o":2,"r":1},
{"c":"i","h":"Pz","t":370,"m":1,"o":4,"r":2},
{"c":"i","h":"Pz","t":420,"m":-1,"o":3,"r":1},
{"c":"i","h":"Pz","t":480,"m":0,"o":2,"r":1},
{"c":"i","h":"Pz","t":540,"m":1,"o":1,"r":0},
{"c":"i","h":"Pz","t":600,"m":-1,"o":0,"r":1},
{"c":"i","h":"Pz","t":660,"m":0,"o":1,"r":0},
{"c":"i","h":"Pz","t":720,"m":1,"o":-1,"r":0},
{"c":"i","h":"Pz","t":780,"m":-1,"o":0,"r":-1},
{"c":"i","h":"Pz","t":840,"m":0,"o":-1,"r":0},
{"c":"i","h":"Pz","t":900,"m":1,"o":-2,"r":-1},
{"c":"i","h":"Pz","t":950,"m":-1,"o":-1,"r":-1},
{"c":"i","h":"Pz","t":1000,"m":0,"o":-3,"r":-2},
{"c":"ii","h":"Pz","t":-500,"m":0,"o":1,"r":1},
{"c":"ii","h":"Pz","t":-450,"m":1,"o":0,"r":0},
{"c":"ii","h":"Pz","t":-400,"m":-1,"o":-1,"r":0},
{"c":"ii","h":"Pz","t":-350,"m":0,"o":0,"r":-1},
{"c":"ii","h":"Pz","t":-300,"m":1,"o":-1,"r":0},
{"c":"ii","h":"Pz","t":-250,"m":-1,"o":-2,"r":-1},
{"c":"ii","h":"Pz","t":-200,"m":0,"o":-1,"r":0},
{"c":"ii","h":"Pz","t":-150,"m":1,"o":-2,"r":-1},
{"c":"ii","h":"Pz","t":-100,"m":-1,"o":-1,"r":-1},
{"c":"ii","h":"Pz","t":-50,"m":0,"o":-2,"r":-1},
{"c":"ii","h":"Pz","t":0,"m":0,"o":-2,"r":-2},
{"c":"ii","h":"Pz","t":40,"m":-2,"o":-6,"r":-6},
{"c":"ii","h":"Pz","t":80,"m":-3,"o":-10,"r":-9},
{"c":"ii","h":"Pz","t":120,"m":0,"o":-1,"r":-2},
{"c":"ii","h":"Pz","t":160,"m":1,"o":7,"r":2},
{"c":"ii","h":"Pz","t":200,"m":1,"o":10,"r":3},
{"c":"ii","h":"Pz","t":240,"m":-1,"o":6,"r":1},
{"c":"ii","h":"Pz","t":280,"m":1,"o":3,"r":0},
{"c":"ii","h":"Pz","t":320,"m":0,"o":2,"r":1},
{"c":"ii","h":"Pz","t":370,"m":-1,"o":3,"r":2},
{"c":"ii","h":"Pz","t":420,"m":1,"o":4,"r":2},
{"c":"ii","h":"Pz","t":480,"m":0,"o":3,"r":1},
{"c":"ii","h":"Pz","t":540,"m":-1,"o":1,"r":0},
{"c":"ii","h":"Pz","t":600,"m":1,"o":0,"r":0},
{"c":"ii","h":"Pz","t":660,"m":0,"o":-1,"r":-1},
{"c":"ii","h":"Pz","t":720,"m":-1,"o":0,"r":0},
{"c":"ii","h":"Pz","t":780,"m":1,"o":-1,"r":0},
{"c":"ii","h":"Pz","t":840,"m":0,"o":-2,"r":-1},
{"c":"ii","h":"Pz","t":900,"m":-1,"o":-1,"r":0},
{"c":"ii","h":"Pz","t":950,"m":1,"o":-2,"r":-1},
{"c":"ii","h":"Pz","t":1000,"m":0,"o":-1,"r":0},
{"c":"iii","h":"Pz","t":-500,"m":0,"o":3,"r":3},
{"c":"iii","h":"Pz","t":-450,"m":1,"o":2,"r":2},
{"c":"iii","h":"Pz","t":-400,"m":-1,"o":1,"r":1},
{"c":"iii","h":"Pz","t":-350,"m":0,"o":0,"r":0},
{"c":"iii","h":"Pz","t":-300,"m":1,"o":-1,"r":0},
{"c":"iii","h":"Pz","t":-250,"m":-1,"o":0,"r":-1},
{"c":"iii","h":"Pz","t":-200,"m":0,"o":-1,"r":0},
{"c":"iii","h":"Pz","t":-150,"m":1,"o":-2,"r":-1},
{"c":"iii","h":"Pz","t":-100,"m":-1,"o":-3,"r":-2},
{"c":"iii","h":"Pz","t":-50,"m":0,"o":-4,"r":-2},
{"c":"iii","h":"Pz","t":0,"m":0,"o":-4,"r":-3},
{"c":"iii","h":"Pz","t":40,"m":-1,"o":-7,"r":-6},
{"c":"iii","h":"Pz","t":80,"m":-2,"o":-11,"r":-8},
{"c":"iii","h":"Pz","t":120,"m":1,"o":-2,"r":-2},
{"c":"iii","h":"Pz","t":160,"m":0,"o":8,"r":2},
{"c":"iii","h":"Pz","t":200,"m":1,"o":12,"r":4},
{"c":"iii","h":"Pz","t":240,"m":-1,"o":9,"r":2},
{"c":"iii","h":"Pz","t":280,"m":1,"o":10,"r":1},
{"c":"iii","h":"Pz","t":320,"m":0,"o":2,"r":0},
{"c":"iii","h":"Pz","t":370,"m":-1,"o":0,"r":1},
{"c":"iii","h":"Pz","t":420,"m":1,"o":2,"r":2},
{"c":"iii","h":"Pz","t":480,"m":0,"o":3,"r":2},
{"c":"iii","h":"Pz","t":540,"m":-1,"o":1,"r":1},
{"c":"iii","h":"Pz","t":600,"m":1,"o":0,"r":0},
{"c":"iii","h":"Pz","t":660,"m":0,"o":-1,"r":-1},
{"c":"iii","h":"Pz","t":720,"m":-1,"o":0,"r":0},
{"c":"iii","h":"Pz","t":780,"m":1,"o":-1,"r":-1},
{"c":"iii","h":"Pz","t":840,"m":0,"o":-2,"r":-1},
{"c":"iii","h":"Pz","t":900,"m":-1,"o":-3,"r":-2},
{"c":"iii","h":"Pz","t":950,"m":1,"o":-2,"r":-1},
{"c":"iii","h":"Pz","t":1000,"m":0,"o":-3,"r":-2},
{"c":"i","h":"Oz","t":-500,"m":0,"o":1,"r":0},
{"c":"i","h":"Oz","t":-450,"m":-1,"o":-1,"r":1},
{"c":"i","h":"Oz","t":-400,"m":1,"o":0,"r":-1},
{"c":"i","h":"Oz","t":-350,"m":0,"o":1,"r":0},
{"c":"i","h":"Oz","t":-300,"m":-1,"o":-1,"r":1},
{"c":"i","h":"Oz","t":-250,"m":1,"o":0,"r":-1},
{"c":"i","h":"Oz","t":-200,"m":0,"o":1,"r":0},
{"c":"i","h":"Oz","t":-150,"m":-1,"o":-1,"r":1},
{"c":"i","h":"Oz","t":-100,"m":1,"o":0,"r":-1},
{"c":"i","h":"Oz","t":-50,"m":0,"o":-1,"r":0},
{"c":"i","h":"Oz","t":0,"m":-1,"o":-2,"r":-1},
{"c":"i","h":"Oz","t":40,"m":-2,"o":-5,"r":-3},
{"c":"i","h":"Oz","t":80,"m":0,"o":-3,"r":-2},
{"c":"i","h":"Oz","t":120,"m":2,"o":6,"r":3},
{"c":"i","h":"Oz","t":160,"m":3,"o":11,"r":5},
{"c":"i","h":"Oz","t":200,"m":2,"o":10,"r":6},
{"c":"i","h":"Oz","t":240,"m":0,"o":8,"r":4},
{"c":"i","h":"Oz","t":280,"m":1,"o":4,"r":2},
{"c":"i","h":"Oz","t":320,"m":-1,"o":3,"r":1},
{"c":"i","h":"Oz","t":370,"m":1,"o":1,"r":0},
{"c":"i","h":"Oz","t":420,"m":-1,"o":2,"r":1},
{"c":"i","h":"Oz","t":480,"m":0,"o":0,"r":-1},
{"c":"i","h":"Oz","t":540,"m":1,"o":1,"r":0},
{"c":"i","h":"Oz","t":600,"m":-1,"o":-1,"r":1},
{"c":"i","h":"Oz","t":660,"m":0,"o":0,"r":-1},
{"c":"i","h":"Oz","t":720,"m":1,"o":1,"r":0},
{"c":"i","h":"Oz","t":780,"m":-1,"o":-1,"r":1},
{"c":"i","h":"Oz","t":840,"m":0,"o":0,"r":-1},
{"c":"i","h":"Oz","t":900,"m":1,"o":1,"r":0},
{"c":"i","h":"Oz","t":950,"m":-1,"o":-1,"r":1},
{"c":"i","h":"Oz","t":1000,"m":0,"o":0,"r":0},
{"c":"ii","h":"Oz","t":-500,"m":0,"o":0,"r":0},
{"c":"ii","h":"Oz","t":-450,"m":1,"o":-1,"r":-1},
{"c":"ii","h":"Oz","t":-400,"m":-1,"o":-2,"r":0},
{"c":"ii","h":"Oz","t":-350,"m":0,"o":-1,"r":-1},
{"c":"ii","h":"Oz","t":-300,"m":1,"o":0,"r":0},
{"c":"ii","h":"Oz","t":-250,"m":-1,"o":-2,"r":-1},
{"c":"ii","h":"Oz","t":-200,"m":0,"o":-1,"r":0},
{"c":"ii","h":"Oz","t":-150,"m":1,"o":-2,"r":-1},
{"c":"ii","h":"Oz","t":-100,"m":-1,"o":-1,"r":0},
{"c":"ii","h":"Oz","t":-50,"m":0,"o":-2,"r":-1},
{"c":"ii","h":"Oz","t":0,"m":-1,"o":-3,"r":-1},
{"c":"ii","h":"Oz","t":40,"m":-1,"o":-3,"r":-2},
{"c":"ii","h":"Oz","t":80,"m":1,"o":1,"r":0},
{"c":"ii","h":"Oz","t":120,"m":2,"o":5,"r":2},
{"c":"ii","h":"Oz","t":160,"m":1,"o":8,"r":4},
{"c":"ii","h":"Oz","t":200,"m":2,"o":10,"r":4},
{"c":"ii","h":"Oz","t":240,"m":-1,"o":6,"r":3},
{"c":"ii","h":"Oz","t":280,"m":1,"o":4,"r":2},
{"c":"ii","h":"Oz","t":320,"m":-1,"o":4,"r":1},
{"c":"ii","h":"Oz","t":370,"m":0,"o":3,"r":1},
{"c":"ii","h":"Oz","t":420,"m":1,"o":3,"r":1},
{"c":"ii","h":"Oz","t":480,"m":-1,"o":1,"r":0},
{"c":"ii","h":"Oz","t":540,"m":0,"o":0,"r":-1},
{"c":"ii","h":"Oz","t":600,"m":1,"o":-1,"r":0},
{"c":"ii","h":"Oz","t":660,"m":-1,"o":-2,"r":-1},
{"c":"ii","h":"Oz","t":720,"m":0,"o":-1,"r":0},
{"c":"ii","h":"Oz","t":780,"m":1,"o":-2,"r":-1},
{"c":"ii","h":"Oz","t":840,"m":-1,"o":-1,"r":0},
{"c":"ii","h":"Oz","t":900,"m":0,"o":-2,"r":-1},
{"c":"ii","h":"Oz","t":950,"m":1,"o":-1,"r":0},
{"c":"ii","h":"Oz","t":1000,"m":0,"o":-1,"r":0},
{"c":"iii","h":"Oz","t":-500,"m":0,"o":0,"r":1},
{"c":"iii","h":"Oz","t":-450,"m":1,"o":-1,"r":0},
{"c":"iii","h":"Oz","t":-400,"m":-1,"o":-2,"r":-1},
{"c":"iii","h":"Oz","t":-350,"m":0,"o":-1,"r":0},
{"c":"iii","h":"Oz","t":-300,"m":1,"o":-2,"r":-1},
{"c":"iii","h":"Oz","t":-250,"m":-1,"o":-1,"r":0},
{"c":"iii","h":"Oz","t":-200,"m":0,"o":-2,"r":-1},
{"c":"iii","h":"Oz","t":-150,"m":1,"o":-1,"r":0},
{"c":"iii","h":"Oz","t":-100,"m":-1,"o":-2,"r":-1},
{"c":"iii","h":"Oz","t":-50,"m":0,"o":-3,"r":-1},
{"c":"iii","h":"Oz","t":0,"m":-1,"o":-4,"r":-2},
{"c":"iii","h":"Oz","t":40,"m":-2,"o":-5,"r":-3},
{"c":"iii","h":"Oz","t":80,"m":1,"o":0,"r":0},
{"c":"iii","h":"Oz","t":120,"m":3,"o":7,"r":4},
{"c":"iii","h":"Oz","t":160,"m":4,"o":13,"r":8},
{"c":"iii","h":"Oz","t":200,"m":2,"o":12,"r":8},
{"c":"iii","h":"Oz","t":240,"m":0,"o":8,"r":5},
{"c":"iii","h":"Oz","t":280,"m":1,"o":5,"r":2},
{"c":"iii","h":"Oz","t":320,"m":-1,"o":3,"r":1},
{"c":"iii","h":"Oz","t":370,"m":1,"o":1,"r":0},
{"c":"iii","h":"Oz","t":420,"m":0,"o":0,"r":1},
{"c":"iii","h":"Oz","t":480,"m":-1,"o":-1,"r":0},
{"c":"iii","h":"Oz","t":540,"m":1,"o":-1,"r":-1},
{"c":"iii","h":"Oz","t":600,"m":0,"o":-2,"r":0},
{"c":"iii","h":"Oz","t":660,"m":-1,"o":-1,"r":-1},
{"c":"iii","h":"Oz","t":720,"m":1,"o":-2,"r":0},
{"c":"iii","h":"Oz","t":780,"m":0,"o":-1,"r":-1},
{"c":"iii","h":"Oz","t":840,"m":-1,"o":-2,"r":0},
{"c":"iii","h":"Oz","t":900,"m":1,"o":-1,"r":-1},
{"c":"iii","h":"Oz","t":950,"m":0,"o":-2,"r":0},
{"c":"iii","h":"Oz","t":1000,"m":0,"o":-1,"r":0}
]
},
"spacing": 14,
"hconcat": [
 {
  "title": {"text": "(a)", "orient": "bottom", "anchor": "middle", "dx": 2, "offset": 30, "fontSize": 13},
  "spacing": 29,
  "vconcat": [
   {
    "data": {"name": "A"},
    "transform": [{"fold": ["o", "r", "m"], "as": ["s", "v"]}],
    "facet": {
     "column": {"field": "c", "type": "nominal", "sort": ["i", "ii", "iii"], "header": {"title": null, "labelExpr": "'(' + datum.value + ')'", "labelPadding": 10}},
     "row": {"field": "h", "type": "nominal", "sort": ["Fz", "Cz", "Pz", "Oz"], "header": {"title": null, "labels": false}}
    },
    "spacing": {"column": 21, "row": 22},
    "bounds": "flush",
    "resolve": {"axis": {"y": "independent"}},
    "spec": {
     "width": 101, "height": 56,
     "layer": [
      {"mark": {"type": "line", "strokeWidth": 1.3, "interpolate": "monotone"},
       "encoding": {
        "x": {"field": "t", "type": "quantitative", "scale": {"domain": [0, 1000]}, "axis": null},
        "y": {"field": "v", "type": "quantitative", "scale": {"domain": [-15, 15]}, "axis": {"values": [-15, -10, -5, 0, 5, 10, 15], "tickCount": 100, "labels": false, "tickSize": -4, "title": null}},
        "color": {"field": "s", "type": "nominal", "scale": {"domain": ["o", "r", "m"], "range": ["#3d3df5", "#e0233f", "#161616"]}, "legend": null}
       }},
      {"mark": {"type": "rule", "color": "#111", "strokeWidth": 1}, "encoding": {"y": {"datum": 0, "type": "quantitative"}}},
      {"transform": [{"filter": "datum.t == 1000 && datum.s == 'm'"}],
       "mark": {"type": "text", "baseline": "bottom", "fontSize": 9, "dy": -3},
       "encoding": {"text": {"field": "h"}, "x": {"datum": 500, "type": "quantitative"}, "y": {"datum": 15, "type": "quantitative"}}}
     ]
    }
   },
   {
    "bounds": "flush",
    "spacing": 3,
    "vconcat": [
     {
      "data": {"values": [{}]},
      "width": 100, "height": 61,
      "mark": {"type": "rule", "color": "#111", "strokeWidth": 1},
      "encoding": {
       "x": {"datum": 0, "type": "quantitative", "scale": {"domain": [0, 1000]}, "axis": {"orient": "bottom", "offset": -33.5, "values": [200, 400, 600, 800, 1000], "tickCount": 100, "format": "d", "tickSize": 6, "domain": false, "labelPadding": 1, "labelFontSize": 8, "labelFlush": false, "labelOverlap": false, "title": "(ms)", "titleFontSize": 8, "titlePadding": 3}},
       "x2": {"datum": 1000},
       "y": {"datum": 0, "type": "quantitative", "scale": {"domain": [-16, 16]}, "axis": {"orient": "left", "values": [-10, -5, 0, 5, 10], "tickCount": 100, "format": "d", "tickSize": -4, "labelPadding": 6, "labelFontSize": 8, "labelOverlap": false, "labelExpr": "replace(datum.label, '-', '−')", "title": "(µV)", "titleAngle": 0, "titleAlign": "right", "titleBaseline": "middle", "titleAnchor": "end", "titleX": -1, "titleY": 1, "titleFontSize": 8}}
      }
     },
     {
      "data": {"name": "L"},
      "width": 100, "height": 42,
      "layer": [
       {"mark": {"type": "rule", "strokeWidth": 1.2},
        "encoding": {
         "x": {"datum": 0, "type": "quantitative", "scale": {"domain": [0, 100]}, "axis": null},
         "x2": {"datum": 20},
         "y": {"field": "lab", "type": "nominal", "sort": ["Motionless", "Original EEG", "Restructured EEG"], "scale": {"type": "point", "padding": 0.5}, "axis": null},
         "color": {"field": "s", "type": "nominal", "scale": {"domain": ["o", "r", "m"], "range": ["#3d3df5", "#e0233f", "#161616"]}, "legend": null}
        }},
       {"mark": {"type": "text", "align": "left", "baseline": "middle", "fontSize": 8.5},
        "encoding": {
         "x": {"datum": 28, "type": "quantitative"},
         "y": {"field": "lab", "type": "nominal", "sort": ["Motionless", "Original EEG", "Restructured EEG"]},
         "text": {"field": "lab"}
        }}
      ]
     }
    ]
   }
  ]
 },
 {
  "title": {"text": "(b)", "orient": "bottom", "anchor": "middle", "dx": -13, "offset": 30, "fontSize": 13},
  "spacing": 29,
  "vconcat": [
   {
    "data": {"name": "B"},
    "transform": [{"fold": ["o", "r", "m"], "as": ["s", "v"]}],
    "facet": {
     "column": {"field": "c", "type": "nominal", "sort": ["i", "ii", "iii"], "header": {"title": null, "labelExpr": "'(' + datum.value + ')'", "labelPadding": 10}},
     "row": {"field": "h", "type": "nominal", "sort": ["Fz", "Cz", "Pz", "Oz"], "header": {"title": null, "labels": false}}
    },
    "spacing": {"column": 30, "row": 21},
    "bounds": "flush",
    "resolve": {"axis": {"x": "independent", "y": "independent"}},
    "spec": {
     "width": 97, "height": 56,
     "layer": [
      {"mark": {"type": "line", "strokeWidth": 1.2},
       "encoding": {
        "x": {"field": "t", "type": "quantitative", "scale": {"domain": [-500, 1000]}, "axis": {"orient": "bottom", "offset": -29.5, "values": [-400, -200, 200, 400, 600, 800, 1000], "tickCount": 100, "tickSize": 3, "domain": false, "labels": false, "title": null}},
        "y": {"field": "v", "type": "quantitative", "scale": {"domain": [-25, 25]}, "axis": {"orient": "left", "offset": -36.33, "values": [-20, -15, -10, -5, 0, 5, 10, 15, 20], "tickCount": 100, "tickSize": 8, "domain": false, "labels": false, "title": null}},
        "color": {"field": "s", "type": "nominal", "scale": {"domain": ["o", "r", "m"], "range": ["#3d3df5", "#e0233f", "#161616"]}, "legend": null}
       }},
      {"mark": {"type": "rule", "color": "#111", "strokeWidth": 1}, "encoding": {"y": {"datum": 0, "type": "quantitative"}}},
      {"mark": {"type": "rule", "color": "#111", "strokeWidth": 1}, "encoding": {"x": {"datum": 0, "type": "quantitative"}, "y": {"datum": -20, "type": "quantitative"}, "y2": {"datum": 20}}},
      {"transform": [{"filter": "datum.t == 1000 && datum.s == 'm'"}],
       "mark": {"type": "text", "baseline": "bottom", "fontSize": 9, "dy": 1},
       "encoding": {"text": {"field": "h"}, "x": {"datum": 250, "type": "quantitative"}, "y": {"datum": 25, "type": "quantitative"}}}
     ]
    }
   },
   {
    "bounds": "flush",
    "spacing": 13,
    "vconcat": [
     {
      "data": {"values": [{}]},
      "width": 100, "height": 46,
      "layer": [
       {"mark": {"type": "rule", "color": "#111", "strokeWidth": 1},
        "encoding": {
         "x": {"datum": -400, "type": "quantitative", "scale": {"domain": [-550, 1000]}, "axis": {"orient": "bottom", "offset": -25, "values": [-400, -200, 200, 400, 600, 800, 1000], "tickCount": 100, "format": "d", "tickSize": 4, "domain": false, "labelPadding": 0, "labelFontSize": 6, "labelFlush": false, "labelOverlap": false, "labelExpr": "replace(datum.label, '-', '−')", "title": "(ms)", "titleFontSize": 7, "titlePadding": 3}},
         "x2": {"datum": 1000},
         "y": {"datum": 0, "type": "quantitative", "scale": {"domain": [-20, 20]}, "axis": {"orient": "left", "offset": -39.5, "values": [-20, -15, -10, -5, 0, 5, 10, 15, 20], "tickCount": 100, "format": "d", "tickSize": 8, "domain": false, "labelPadding": 4, "labelFontSize": 6.5, "labelOverlap": false, "labelExpr": "abs(datum.value) == 10 || abs(datum.value) == 20 ? replace(datum.label, '-', '−') : ''", "title": "(µV)", "titleAngle": 0, "titleAlign": "center", "titleBaseline": "bottom", "titleAnchor": "end", "titleX": -4, "titleY": -3, "titleFontSize": 7}}
        }},
       {"mark": {"type": "rule", "color": "#111", "strokeWidth": 1},
        "encoding": {"x": {"datum": 0, "type": "quantitative"}, "y": {"datum": -20, "type": "quantitative"}, "y2": {"datum": 20}}}
      ]
     },
     {
      "data": {"name": "L"},
      "width": 100, "height": 42,
      "layer": [
       {"mark": {"type": "rule", "strokeWidth": 1.2},
        "encoding": {
         "x": {"datum": 38, "type": "quantitative", "scale": {"domain": [0, 100]}, "axis": null},
         "x2": {"datum": 56},
         "y": {"field": "lab", "type": "nominal", "sort": ["Motionless", "Original EEG", "Restructured EEG"], "scale": {"type": "point", "padding": 0.5}, "axis": null},
         "color": {"field": "s", "type": "nominal", "scale": {"domain": ["o", "r", "m"], "range": ["#3d3df5", "#e0233f", "#161616"]}, "legend": null}
        }},
       {"mark": {"type": "text", "align": "left", "baseline": "middle", "fontSize": 8.5},
        "encoding": {
         "x": {"datum": 65, "type": "quantitative"},
         "y": {"field": "lab", "type": "nominal", "sort": ["Motionless", "Original EEG", "Restructured EEG"]},
         "text": {"field": "lab"}
        }}
      ]
     }
    ]
   }
  ]
 }
]
}
